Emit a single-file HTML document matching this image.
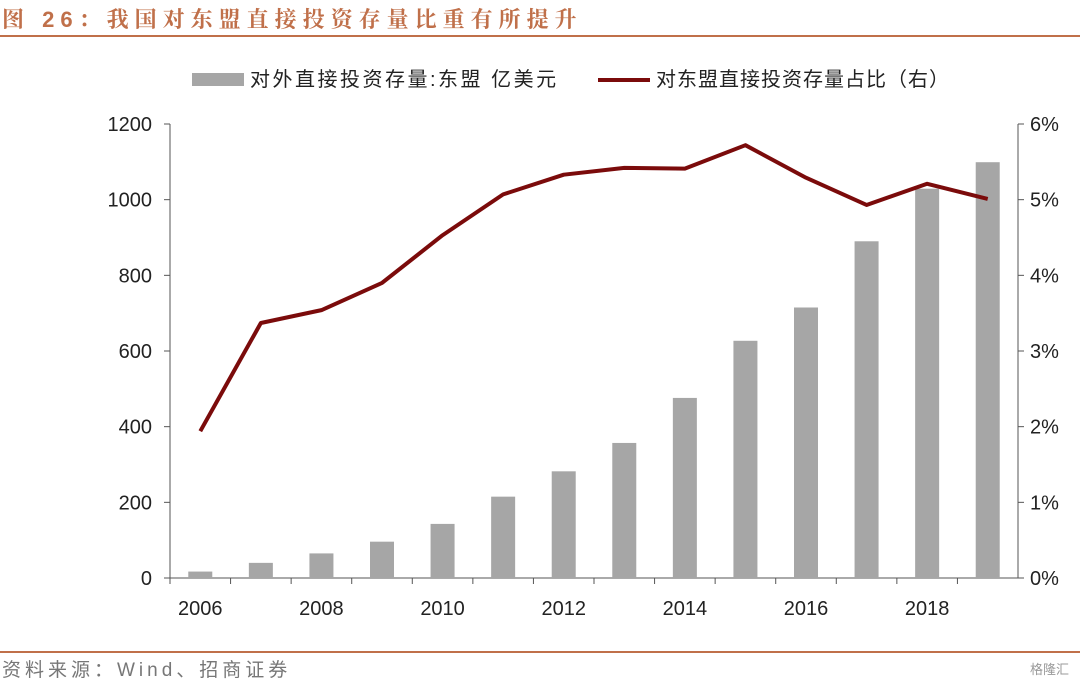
<!DOCTYPE html>
<html><head><meta charset="utf-8"><style>
body{margin:0;width:1080px;height:684px;background:#fff;overflow:hidden;font-family:"Liberation Sans","Noto Sans CJK SC",sans-serif;}
</style></head><body>
<svg width="1080" height="684" xmlns="http://www.w3.org/2000/svg">
<text x="2" y="27" font-size="22" fill="#c0704a" font-weight="bold" letter-spacing="6" font-family="'Liberation Sans','Noto Serif CJK SC',serif">图 26：我国对东盟直接投资存量比重有所提升</text>
<line x1="0" y1="36" x2="1080" y2="36" stroke="#c0704a" stroke-width="2"/>
<g>
<rect x="192" y="73" width="52" height="13" fill="#a6a6a6"/>
<text x="250" y="86" font-size="20" fill="#222" letter-spacing="2.5">对外直接投资存量:东盟 亿美元</text>
<line x1="598" y1="80" x2="650" y2="80" stroke="#7b0b0b" stroke-width="4"/>
<text x="656" y="86" font-size="20" fill="#222" letter-spacing="1">对东盟直接投资存量占比（右）</text>
</g>
<g id="axes"></g><g id="bars"></g><g id="line"></g>
<line x1="0" y1="652" x2="1080" y2="652" stroke="#c0704a" stroke-width="2"/>
<text x="2" y="676" font-size="19" fill="#777" letter-spacing="4">资料来源：Wind、招商证券</text>
<text x="1030" y="674" font-size="13" fill="#999">格隆汇</text>
</svg>
<script>
const years=[2006,2007,2008,2009,2010,2011,2012,2013,2014,2015,2016,2017,2018,2019];
const stock=[17,40,65,96,143,215,282,357,476,627,715,890,1029,1099];
const share=[1.94,3.37,3.54,3.9,4.53,5.07,5.33,5.42,5.41,5.72,5.29,4.93,5.21,5.01];
const leftTicks=[0,200,400,600,800,1000,1200];
const rightTicks=[0,1,2,3,4,5,6];
const NS="http://www.w3.org/2000/svg";
const L=170,R=1018,T=124,B=578;
const yL=v=>B-(v/1200)*(B-T), yR=v=>B-(v/6)*(B-T);
const xi=i=>L+(R-L)/years.length*(i+0.5);
function mk(p,tag,a){const e=document.createElementNS(NS,tag);for(const k in a)e.setAttribute(k,a[k]);document.getElementById(p).appendChild(e);return e;}
let e;
e=mk('axes','line',{x1:L,y1:T,x2:L,y2:B,stroke:'#555'});


e=mk('axes','line',{x1:R,y1:T,x2:R,y2:B,stroke:'#555'});


e=mk('axes','line',{x1:L,y1:B,x2:R,y2:B,stroke:'#555'});


leftTicks.forEach(v=>{mk('axes','line',{x1:L-6,y1:yL(v),x2:L,y2:yL(v),stroke:'#555'});
e=mk('axes','text',{x:L-18,y:yL(v)+7,'text-anchor':'end','font-size':20,fill:'#222'});e.textContent=v;

});
rightTicks.forEach(v=>{mk('axes','line',{x1:R,y1:yR(v),x2:R+6,y2:yR(v),stroke:'#555'});
e=mk('axes','text',{x:R+12,y:yR(v)+7,'font-size':20,fill:'#222'});e.textContent=v+'%';

});
years.forEach((y,i)=>{mk('axes','line',{x1:L+(R-L)/years.length*i,y1:B,x2:L+(R-L)/years.length*i,y2:B+6,stroke:'#555'});
if(i%2==0){e=mk('axes','text',{x:xi(i),y:B+37,'text-anchor':'middle','font-size':20,fill:'#222'});e.textContent=y;

}
e=mk('bars','rect',{x:xi(i)-12,y:yL(stock[i]),width:24,height:B-yL(stock[i]),fill:'#a6a6a6'});

});
e=mk('line','polyline',{points:share.map((v,i)=>xi(i)+','+yR(v)).join(' '),fill:'none',stroke:'#7b0b0b','stroke-width':4,'stroke-linejoin':'round'});


</script>
</body></html>
